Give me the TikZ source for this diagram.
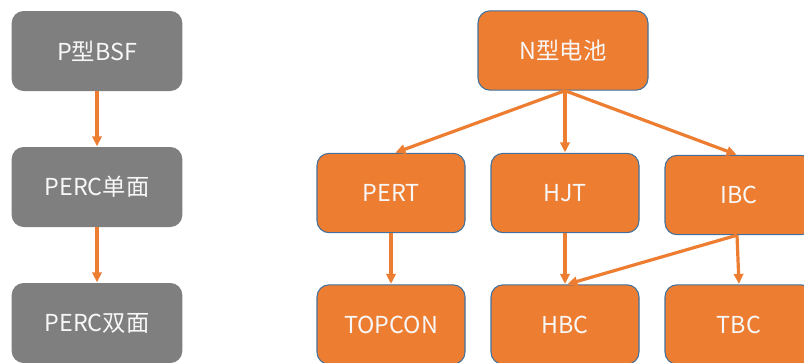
\documentclass[tikz,border=0pt]{standalone}
\usepackage{fontspec}
\setmainfont{Noto Sans CJK SC}
\usetikzlibrary{arrows.meta}
\definecolor{boxgray}{HTML}{7F7F7F}
\definecolor{boxorange}{HTML}{ED7D31}
\definecolor{boxedge}{HTML}{41719C}
\definecolor{labeltext}{HTML}{F7F7F7}
\tikzset{
  basebox/.style={rounded corners=9pt, text=labeltext, font=\fontsize{17.5}{20}\selectfont, inner sep=0pt},
  graybox/.style={basebox, fill=boxgray, minimum width=128pt, minimum height=60pt},
  orangebox/.style={basebox, fill=boxorange, draw=boxedge, line width=0.8pt, minimum width=111pt, minimum height=59.5pt},
  link/.style={draw=boxorange, line width=2.4pt, -{Triangle[length=7.5pt,width=7pt]}, shorten >=0.3pt}
}
\begin{document}
\begin{tikzpicture}[x=0.75pt, y=-0.75pt]
  \useasboundingbox (0,0) rectangle (804,362);
  \clip (0,0) rectangle (804,362);
  % P-type branch
  \node[graybox] (bsf)  at (97,51)  {P型BSF};
  \node[graybox] (perc1) at (97,187) {PERC单面};
  \node[graybox] (perc2) at (97,323) {PERC双面};
  % N-type branch
  \node[orangebox, minimum width=127.5pt] (ncell) at (563,50.5) {N型电池};
  \node[orangebox] (pert) at (391,193) {PERT};
  \node[orangebox] (hjt)  at (565,193) {HJT};
  \node[orangebox] (ibc)  at (739,195) {IBC};
  \node[orangebox] (topcon) at (391,324.5) {TOPCON};
  \node[orangebox] (hbc)  at (565,324.5) {HBC};
  \node[orangebox] (tbc)  at (739,324.5) {TBC};
  % connectors
  \draw[link] (bsf.south) -- (perc1.north);
  \draw[link] (perc1.south) -- (perc2.north);
  \draw[link] ([xshift=1.5pt]ncell.south) -- ([xshift=3pt]pert.north);
  \draw[link] ([xshift=1.5pt]ncell.south) -- (hjt.north);
  \draw[link] ([xshift=1.5pt]ncell.south) -- ([xshift=-1.5pt]ibc.north);
  \draw[link] (pert.south) -- (topcon.north);
  \draw[link] (hjt.south) -- (hbc.north);
  \draw[link] ([xshift=-1.5pt]ibc.south) -- ([xshift=1.5pt]hbc.north);
  \draw[link] ([xshift=-1.5pt]ibc.south) -- (tbc.north);
\end{tikzpicture}
\end{document}
